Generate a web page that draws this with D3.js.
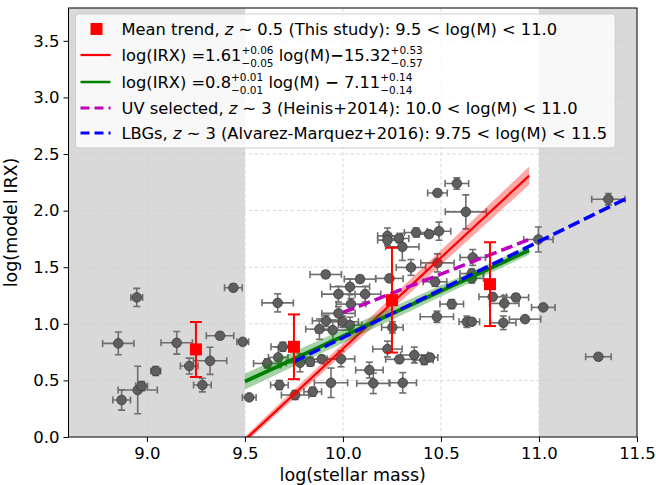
<!DOCTYPE html>
<html>
<head>
<meta charset="utf-8">
<script src="https://d3js.org/d3.v7.min.js"></script>
<style>
  body { margin: 0; background: #fff; }
  svg { display: block; font-family: "DejaVu Sans", sans-serif; }
</style>
</head>
<body>
<svg id="chart" width="656" height="485"></svg>
<script>
// individual galaxies: log(stellar mass), log(model IRX) and their errors
const massVals = [8.854, 8.948, 8.871, 8.953, 8.973, 9.045, 9.152, 9.216, 9.322, 9.283,
  9.373, 9.489, 9.441, 9.522, 9.667, 9.693, 9.614, 9.670, 9.781, 9.832,
  9.892, 9.990, 9.676, 9.756, 9.846, 9.939, 9.977, 10.036, 10.041, 9.977,
  9.914, 9.999, 9.880, 9.948, 10.036, 9.912, 10.087, 10.237, 10.113, 10.227,
  10.227, 10.286, 10.303, 10.373, 10.439, 10.490, 10.347, 10.482, 10.470, 10.662,
  10.657, 10.657, 10.581, 10.482, 10.627, 10.997, 11.354, 11.303, 11.022, 10.929,
  10.818, 10.764, 10.823, 10.882, 10.632, 10.657, 10.555, 10.479, 10.252, 10.227,
  10.288, 10.364, 10.415, 10.444, 10.135, 10.155, 10.305];
const irxVals = [0.827, 1.233, 0.327, 0.415, 0.450, 0.583, 0.832, 0.627, 0.673, 0.459,
  0.894, 0.841, 1.318, 0.350, 1.185, 0.797, 0.650, 0.703, 0.656, 0.665,
  0.688, 0.690, 0.459, 0.371, 0.400, 0.479, 1.262, 1.327, 1.174, 1.092,
  1.026, 1.018, 0.953, 0.944, 0.989, 1.436, 1.395, 1.401, 1.262, 1.777,
  1.739, 1.754, 1.680, 1.807, 1.792, 1.818, 1.498, 1.538, 1.371, 1.586,
  1.444, 1.401, 2.239, 2.156, 1.989, 1.745, 2.101, 0.709, 1.145, 1.041,
  1.009, 1.238, 1.180, 1.233, 1.018, 1.018, 1.174, 1.062, 0.968, 0.777,
  0.686, 0.724, 0.680, 0.703, 0.591, 0.474, 0.479];
const massErr = [0.08, 0.03, 0.045, 0.10, 0.03, 0.025, 0.08, 0.045, 0.085, 0.045,
  0.07, 0.03, 0.045, 0.035, 0.08, 0.06, 0.07, 0.05, 0.07, 0.07,
  0.085, 0.07, 0.045, 0.07, 0.045, 0.085, 0.085, 0.10, 0.075, 0.085,
  0.07, 0.08, 0.07, 0.085, 0.06, 0.08, 0.08, 0.07, 0.08, 0.05,
  0.05, 0.05, 0.085, 0.06, 0.05, 0.06, 0.075, 0.085, 0.06, 0.065,
  0.06, 0.06, 0.06, 0.05, 0.105, 0.075, 0.085, 0.065, 0.06, 0.08,
  0.065, 0.07, 0.075, 0.065, 0.04, 0.04, 0.06, 0.085, 0.055, 0.075,
  0.07, 0.07, 0.045, 0.04, 0.07, 0.085, 0.07];
const irxErr = [0.10, 0.08, 0.09, 0.21, 0.04, 0.04, 0.10, 0.07, 0.12, 0.06,
  0.03, 0.02, 0.03, 0.02, 0.08, 0.04, 0.04, 0.09, 0.08, 0.04,
  0.03, 0.07, 0.04, 0.04, 0.04, 0.13, 0.07, 0.07, 0.05, 0.06,
  0.05, 0.05, 0.09, 0.09, 0.07, 0.03, 0.03, 0.03, 0.07, 0.07,
  0.05, 0.03, 0.12, 0.04, 0.03, 0.08, 0.07, 0.08, 0.04, 0.07,
  0.04, 0.04, 0.05, 0.02, 0.15, 0.11, 0.05, 0.02, 0.02, 0.02,
  0.06, 0.03, 0.07, 0.03, 0.05, 0.03, 0.04, 0.05, 0.05, 0.07,
  0.03, 0.07, 0.04, 0.03, 0.07, 0.09, 0.09];

// mean trend (this study)
const meanMass = [9.25, 9.75, 10.25, 10.75];
const meanIrx = [0.774, 0.797, 1.209, 1.350];
const meanErr = [0.243, 0.286, 0.463, 0.370];

// fits: slope, intercept, x range, band half-width at the two ends
const redFit = { slope: 1.61, icpt: -15.32, x: [9.5, 10.95], band: [0.03, 0.08] };
const greenFit = { slope: 0.8, icpt: -7.11, x: [9.5, 10.95], band: [0.07, 0.04] };
// literature relations (two end points each)
const heinisX = [10.0, 10.95];
const heinisY = [1.10, 1.745];
const lbgX = [9.75, 11.45];
const lbgY = [0.665, 2.11];

const xTicks = [9.0, 9.5, 10.0, 10.5, 11.0, 11.5];
const yTicks = [0.0, 0.5, 1.0, 1.5, 2.0, 2.5, 3.0, 3.5];
const maskedRanges = [[8.6, 9.5], [11.0, 11.5]];

const margin = { top: 8, right: 19, bottom: 48, left: 68.5 };
const W = 656 - margin.left - margin.right;
const H = 485 - margin.top - margin.bottom;

const svg = d3.select('#chart');
const g = svg.append('g').attr('transform', `translate(${margin.left},${margin.top})`);

const x = d3.scaleLinear().domain([8.6, 11.5]).range([0, W]);
const y = d3.scaleLinear().domain([0, 3.79]).range([H, 0]);

svg.append('defs').append('clipPath').attr('id', 'clip')
  .append('rect').attr('width', W).attr('height', H);

// gray excluded mass ranges
g.selectAll('rect.mask').data(maskedRanges).join('rect')
  .attr('class', 'mask')
  .attr('x', d => x(d[0])).attr('width', d => x(d[1]) - x(d[0]))
  .attr('y', 0).attr('height', H)
  .attr('fill', '#d9d9d9');

// grid
const grid = g.append('g').attr('stroke', '#cfcfcf').attr('stroke-width', 0.8).attr('stroke-dasharray', '3.5,2.5');
grid.selectAll('line.gx').data(xTicks.slice(0, -1)).join('line')
  .attr('x1', d => x(d)).attr('x2', d => x(d)).attr('y1', 0).attr('y2', H);
grid.selectAll('line.gy').data(yTicks.slice(1)).join('line')
  .attr('y1', d => y(d)).attr('y2', d => y(d)).attr('x1', 0).attr('x2', W);

const plot = g.append('g').attr('clip-path', 'url(#clip)');

// galaxies with error bars
const pts = massVals.map((m, i) => ({ m, v: irxVals[i], em: massErr[i], ev: irxErr[i] }));
const eb = plot.append('g').attr('stroke', '#6e6e6e').attr('stroke-width', 1.6).attr('fill', 'none');
pts.forEach(d => {
  const cx = x(d.m), cy = y(d.v);
  const x0 = x(d.m - d.em), x1 = x(d.m + d.em);
  const y0 = y(d.v - d.ev), y1 = y(d.v + d.ev);
  eb.append('line').attr('x1', x0).attr('x2', x1).attr('y1', cy).attr('y2', cy);
  eb.append('line').attr('x1', cx).attr('x2', cx).attr('y1', y0).attr('y2', y1);
  [x0, x1].forEach(xx => eb.append('line').attr('x1', xx).attr('x2', xx).attr('y1', cy - 3.5).attr('y2', cy + 3.5));
  [y0, y1].forEach(yy => eb.append('line').attr('y1', yy).attr('y2', yy).attr('x1', cx - 3.5).attr('x2', cx + 3.5));
});
plot.append('g').selectAll('circle').data(pts).join('circle')
  .attr('cx', d => x(d.m)).attr('cy', d => y(d.v)).attr('r', 4.8)
  .attr('fill', '#5f5f5f').attr('stroke', '#3a3a3a').attr('stroke-width', 0.8);

// fit bands and lines
function drawFit(fit, color, lw) {
  const band = fit.x.map((xv, i) => ({ xv, c: fit.slope * xv + fit.icpt, h: fit.band[i] }));
  plot.append('path').datum(band)
    .attr('fill', color).attr('fill-opacity', 0.35)
    .attr('d', d3.area().x(d => x(d.xv)).y0(d => y(d.c - d.h)).y1(d => y(d.c + d.h)));
  plot.append('path').datum(band)
    .attr('fill', 'none').attr('stroke', color).attr('stroke-width', lw)
    .attr('d', d3.line().x(d => x(d.xv)).y(d => y(d.c)));
}
drawFit(redFit, '#ff0000', 2.2);
drawFit(greenFit, '#008000', 3.8);

const lineGen = d3.line().x(d => x(d[0])).y(d => y(d[1]));
plot.append('path').datum(heinisX.map((v, i) => [v, heinisY[i]]))
  .attr('fill', 'none').attr('stroke', '#bf00bf').attr('stroke-width', 3.5)
  .attr('stroke-dasharray', '12,5').attr('d', lineGen);
plot.append('path').datum(lbgX.map((v, i) => [v, lbgY[i]]))
  .attr('fill', 'none').attr('stroke', '#0000ff').attr('stroke-width', 3.5)
  .attr('stroke-dasharray', '12,5').attr('d', lineGen);

// mean trend
const mt = plot.append('g');
meanMass.forEach((m, i) => {
  const cx = x(m);
  const ylo = y(meanIrx[i] - meanErr[i]), yhi = y(meanIrx[i] + meanErr[i]);
  mt.append('line').attr('x1', cx).attr('x2', cx).attr('y1', ylo).attr('y2', yhi)
    .attr('stroke', '#ff0000').attr('stroke-width', 2);
  [ylo, yhi].forEach(yy => mt.append('line').attr('x1', cx - 6).attr('x2', cx + 6)
    .attr('y1', yy).attr('y2', yy).attr('stroke', '#ff0000').attr('stroke-width', 2));
  mt.append('rect').attr('x', cx - 6).attr('y', y(meanIrx[i]) - 6).attr('width', 12).attr('height', 12)
    .attr('fill', '#ff0000');
});

// axes
const xAxis = g.append('g').attr('transform', `translate(0,${H})`)
  .call(d3.axisBottom(x).tickValues(xTicks).tickFormat(d3.format('.1f')).tickSizeOuter(0).tickSize(5).tickPadding(5));
const yAxis = g.append('g')
  .call(d3.axisLeft(y).tickValues(yTicks).tickFormat(d3.format('.1f')).tickSizeOuter(0).tickSize(5).tickPadding(4));
[xAxis, yAxis].forEach(a => {
  a.selectAll('text').attr('font-size', 16.5).attr('fill', '#000').attr('font-family', 'DejaVu Sans');
  a.selectAll('.tick line').attr('stroke', '#000').attr('stroke-width', 1);
  a.select('.domain').remove();
});
g.append('rect').attr('width', W).attr('height', H).attr('fill', 'none')
  .attr('stroke', '#000').attr('stroke-width', 1);

g.append('text').attr('x', W / 2).attr('y', H + 44).attr('text-anchor', 'middle')
  .attr('font-size', 17.5).text('log(stellar mass)');
g.append('text').attr('transform', `translate(${-52},${H / 2}) rotate(-90)`)
  .attr('text-anchor', 'middle').attr('font-size', 17.5).text('log(model IRX)');

// legend
const fs = 16.3;
const legend = g.append('g').attr('transform', 'translate(7,6)');
const frame = legend.append('rect').attr('rx', 3)
  .attr('fill', '#fff').attr('fill-opacity', 0.8).attr('stroke', '#cccccc').attr('stroke-width', 1);
const rowsY = [15, 41, 68, 94, 119];
const textX = 46;

function richRow(yy, parts) {
  let cx = textX;
  parts.forEach(p => {
    if (p.pair) {
      const a = legend.append('text').attr('x', cx).attr('y', yy - 7.5).attr('font-size', 10.5).text(p.pair[0]);
      const b = legend.append('text').attr('x', cx).attr('y', yy + 6).attr('font-size', 10.5).text(p.pair[1]);
      cx += Math.max(a.node().getComputedTextLength(), b.node().getComputedTextLength());
    } else {
      const t = legend.append('text').attr('x', cx).attr('y', yy)
        .attr('font-size', fs).style('white-space', 'pre').text(p.t);
      if (p.it) t.attr('font-style', 'italic');
      if (p.bold) t.attr('font-weight', 'bold');
      cx += t.node().getComputedTextLength();
    }
  });
  return cx;
}
const rowsEnd = [];
rowsEnd.push(richRow(rowsY[0] + 6, [{ t: 'Mean trend, ' }, { t: 'z', it: true }, { t: ' ∼ 0.5 (This study): 9.5 < log(M) < 11.0' }]));
rowsEnd.push(richRow(rowsY[1] + 6, [{ t: 'log(IRX) =1.61' }, { pair: ['+0.06', '−0.05'] }, { t: ' log(M)' }, { t: '−', bold: true }, { t: '15.32' }, { pair: ['+0.53', '−0.57'] }]));
rowsEnd.push(richRow(rowsY[2] + 6, [{ t: 'log(IRX) =0.8' }, { pair: ['+0.01', '−0.01'] }, { t: ' log(M) ' }, { t: '−', bold: true }, { t: ' 7.11' }, { pair: ['+0.14', '−0.14'] }]));
rowsEnd.push(richRow(rowsY[3] + 6, [{ t: 'UV selected, ' }, { t: 'z', it: true }, { t: ' ∼ 3 (Heinis+2014): 10.0 < log(M) < 11.0' }]));
rowsEnd.push(richRow(rowsY[4] + 6, [{ t: 'LBGs, ' }, { t: 'z', it: true }, { t: ' ∼ 3 (Alvarez-Marquez+2016): 9.75 < log(M) < 11.5' }]));
frame.attr('x', 0).attr('y', 0).attr('width', d3.max(rowsEnd) + 8).attr('height', rowsY[4] + 15);

legend.append('rect').attr('x', 15).attr('y', rowsY[0] - 6).attr('width', 12).attr('height', 12).attr('fill', '#ff0000');
const handles = [
  { row: 1, color: '#ff0000', lw: 2.2, dash: null },
  { row: 2, color: '#008000', lw: 2.5, dash: null },
  { row: 3, color: '#bf00bf', lw: 3, dash: '9,5' },
  { row: 4, color: '#0000ff', lw: 3, dash: '9,5' }
];
handles.forEach(h => {
  legend.append('line').attr('x1', 5).attr('x2', 35).attr('y1', rowsY[h.row]).attr('y2', rowsY[h.row])
    .attr('stroke', h.color).attr('stroke-width', h.lw).attr('stroke-dasharray', h.dash);
});
</script>
</body>
</html>
